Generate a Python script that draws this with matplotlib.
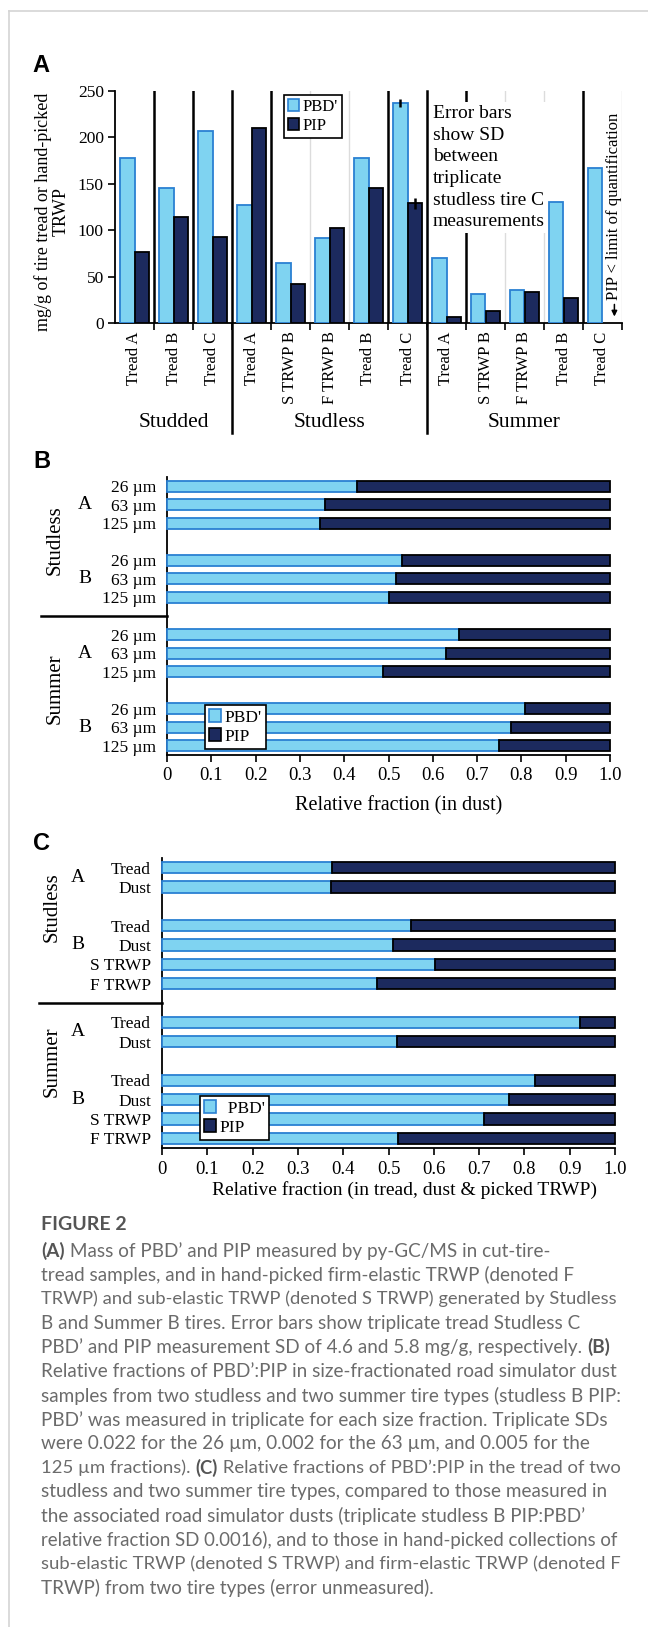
import matplotlib.pyplot as plt
import matplotlib.transforms as mtransforms
from matplotlib.patches import Patch
from matplotlib.lines import Line2D
import numpy as np

W, H = 648, 1627

# ---- panel A: mass of PBD' and PIP (mg/g) ----
a_cats = ['Tread A', 'Tread B', 'Tread C',
          'Tread A', 'S TRWP B', 'F TRWP B', 'Tread B', 'Tread C',
          'Tread A', 'S TRWP B', 'F TRWP B', 'Tread B', 'Tread C']
a_groups = ['Studded', 'Studless', 'Summer']
a_group_sizes = [3, 5, 5]
a_pbd = [178, 145, 207, 127, 65, 92, 178, 237, 70, 31, 36, 130, 167]
a_pip = [77, 114, 93, 210, 42, 102, 145, 129, 6, 13, 33, 27, np.nan]
a_sd_idx = 7          # studless tread C, triplicate
a_pbd_sd = 4.6
a_pip_sd = 5.8
a_black_bounds = [1, 2, 4, 7, 9, 12]
a_yticks = [0, 50, 100, 150, 200, 250]

# ---- panel B: relative fraction in dust by size ----
b_sizes = ['26 µm', '63 µm', '125 µm']
b_tires = ['A', 'B', 'A', 'B']
b_types = ['Studless', 'Summer']
b_pbd = [0.429, 0.357, 0.346,
         0.531, 0.517, 0.500,
         0.659, 0.629, 0.487,
         0.808, 0.776, 0.750]

# ---- panel C: relative fraction in tread, dust & picked TRWP ----
c_labels = ['Tread', 'Dust',
            'Tread', 'Dust', 'S TRWP', 'F TRWP',
            'Tread', 'Dust',
            'Tread', 'Dust', 'S TRWP', 'F TRWP']
c_group_sizes = [2, 4, 2, 4]
c_tires = ['A', 'B', 'A', 'B']
c_types = ['Studless', 'Summer']
c_pbd = [0.375, 0.374,
         0.549, 0.511, 0.603, 0.474,
         0.922, 0.518,
         0.823, 0.767, 0.711, 0.522]

frac_ticks = [0, 0.1, 0.2, 0.3, 0.4, 0.5, 0.6, 0.7, 0.8, 0.9, 1.0]
frac_labels = ['0', '0.1', '0.2', '0.3', '0.4', '0.5', '0.6', '0.7', '0.8', '0.9', '1.0']

caption_title = 'FIGURE 2'
caption_lines = [
    [('(A)', True), (' Mass of PBD’ and PIP measured by py-GC/MS in cut-tire-', False)],
    [('tread samples, and in hand-picked firm-elastic TRWP (denoted F', False)],
    [('TRWP) and sub-elastic TRWP (denoted S TRWP) generated by Studless', False)],
    [('B and Summer B tires. Error bars show triplicate tread Studless C', False)],
    [('PBD’ and PIP measurement SD of 4.6 and 5.8 mg/g, respectively. ', False), ('(B)', True)],
    [('Relative fractions of PBD’:PIP in size-fractionated road simulator dust', False)],
    [('samples from two studless and two summer tire types (studless B PIP:', False)],
    [('PBD’ was measured in triplicate for each size fraction. Triplicate SDs', False)],
    [('were 0.022 for the 26 µm, 0.002 for the 63 µm, and 0.005 for the', False)],
    [('125 µm fractions). ', False), ('(C)', True), (' Relative fractions of PBD’:PIP in the tread of two', False)],
    [('studless and two summer tire types, compared to those measured in', False)],
    [('the associated road simulator dusts (triplicate studless B PIP:PBD’', False)],
    [('relative fraction SD 0.0016), and to those in hand-picked collections of', False)],
    [('sub-elastic TRWP (denoted S TRWP) and firm-elastic TRWP (denoted F', False)],
    [('TRWP) from two tire types (error unmeasured).', False)],
]

LIGHT = '#7fd3f1'
LIGHT_EDGE = '#2a80d2'
DARK = '#1c2a5e'
SANS = ['Lato', 'DejaVu Sans']

plt.rcParams['font.family'] = ['Liberation Serif', 'DejaVu Serif']
plt.rcParams['axes.linewidth'] = 1.3


def rect(l, t, r, b):
    return [l / W, 1 - b / H, (r - l) / W, (b - t) / H]


def fx(x):
    return x / W


def fy(y):
    return 1 - y / H


def legend_at(x, y, labels, size):
    handles = [Patch(fc=LIGHT, ec=LIGHT_EDGE, lw=1.2, label=labels[0]),
               Patch(fc=DARK, ec='black', lw=1.2, label=labels[1])]
    leg = fig.legend(handles=handles, loc='upper left',
                     bbox_to_anchor=(fx(x), fy(y)), bbox_transform=fig.transFigure,
                     fancybox=False, edgecolor='black', framealpha=1,
                     fontsize=size, handlelength=0.65, handleheight=0.75,
                     handletextpad=0.2, borderpad=0.25, labelspacing=0.15,
                     borderaxespad=0)
    leg.get_frame().set_linewidth(1.2)


fig = plt.figure(figsize=(W / 100, H / 100), dpi=100)

# page frame
fig.add_artist(Line2D([fx(9), 1], [fy(11), fy(11)], color='#d4d4d4', lw=1.2))
fig.add_artist(Line2D([fx(9), fx(9)], [fy(11), 0], color='#d4d4d4', lw=1.2))

# ================= A =================
fig.text(fx(32), fy(65), 'A', family='Liberation Sans', weight='bold', fontsize=17,
         va='center', ha='left')
axA = fig.add_axes(rect(115, 91, 622, 323))
x = np.arange(len(a_cats))
w = 0.37
axA.bar(x - w / 2, a_pbd, w, color=LIGHT, edgecolor=LIGHT_EDGE, lw=1.3, zorder=3)
axA.bar(x + w / 2, a_pip, w, color=DARK, edgecolor='black', lw=1.3, zorder=3)
axA.errorbar(x[a_sd_idx] - w / 2, a_pbd[a_sd_idx], yerr=a_pbd_sd, fmt='none',
             ecolor='black', elinewidth=1.8, capsize=0, zorder=4)
axA.errorbar(x[a_sd_idx] + w / 2, a_pip[a_sd_idx], yerr=a_pip_sd, fmt='none',
             ecolor='black', elinewidth=1.8, capsize=0, zorder=4)
axA.set_xlim(-0.5, len(a_cats) - 0.5)
axA.set_ylim(0, 250)
axA.set_yticks(a_yticks)
axA.tick_params(axis='y', length=5, width=1.2, labelsize=12.5, pad=3)
bounds = np.arange(len(a_cats) + 1) - 0.5
axA.set_xticks(bounds[1:], minor=True)
axA.set_xticks(x)
axA.set_xticklabels(a_cats, rotation=90, va='top')
axA.tick_params(axis='x', which='major', length=0, pad=6, labelsize=12)
axA.tick_params(axis='x', which='minor', length=5, width=1.2)
axA.grid(True, which='minor', axis='x', color='#dcdcdc', lw=1, zorder=0)
axA.set_axisbelow(True)
for s in ['top', 'right']:
    axA.spines[s].set_visible(False)
for b in a_black_bounds:
    axA.axvline(b - 0.5, color='black', lw=1.8, zorder=2)
blendA = mtransforms.blended_transform_factory(axA.transData, axA.transAxes)
start = 0
for name, n in zip(a_groups, a_group_sizes):
    axA.text(start + (n - 1) / 2, -0.431, name, transform=blendA, ha='center',
             va='center', fontsize=15.5)
    if start > 0:
        axA.plot([start - 0.5] * 2, [-0.474, 1], transform=blendA, clip_on=False,
                 color='black', lw=1.8, zorder=2)
    start += n
fig.text(fx(52), fy(212), 'mg/g of tire tread or hand-picked\nTRWP', rotation=90,
         ha='center', va='center', multialignment='center', fontsize=13,
         linespacing=1.05)
fig.text(fx(433), fy(105),
         'Error bars\nshow SD\nbetween\ntriplicate\nstudless tire C\nmeasurements',
         ha='left', va='top', fontsize=14, linespacing=1.36,
         bbox=dict(fc='white', ec='none', pad=2))
xa = len(a_cats) - 1 + w / 2 + 0.12
axA.text(xa, 25, 'PIP < limit of quantification', rotation=90, ha='center',
         va='bottom', fontsize=12)
axA.annotate('', xy=(xa, 4), xytext=(xa, 23),
             arrowprops=dict(arrowstyle='-|>', color='black', lw=1.1, mutation_scale=8))
legend_at(284, 95, ["PBD'", 'PIP'], 12)


# ================= B / C =================
def frac_panel(box, letters_x, type_x, sep_x, labels, pbd, group_sizes, tires,
               types, type_shift):
    ax = fig.add_axes(rect(*box))
    slots = []
    firsts = []
    s = 0
    for n in group_sizes:
        firsts.append(s)
        slots.extend(range(s, s + n))
        s += n + 1
    slots = np.array(slots)
    pbd = np.array(pbd)
    ax.barh(slots, pbd, height=0.6, color=LIGHT, edgecolor=LIGHT_EDGE, lw=1.3,
            clip_on=False, zorder=3)
    ax.barh(slots, 1 - pbd, left=pbd, height=0.6, color=DARK, edgecolor='black',
            lw=1.3, clip_on=False, zorder=3)
    ax.set_xlim(0, 1)
    ax.set_ylim(slots[-1] + 0.5, -0.5)
    ax.set_xticks(frac_ticks)
    ax.set_xticklabels(frac_labels)
    ax.tick_params(axis='x', length=5, width=1.2, labelsize=13.5, pad=4)
    ax.set_yticks(slots)
    ax.set_yticklabels(labels)
    ax.tick_params(axis='y', length=0, labelsize=12.5, pad=8)
    for sp in ['top', 'right']:
        ax.spines[sp].set_visible(False)
    left, right = box[0], box[2]
    ax_w = right - left
    blend = mtransforms.blended_transform_factory(ax.transAxes, ax.transData)
    for first, n, t in zip(firsts, group_sizes, tires):
        ax.text((letters_x - left) / ax_w, first + min((n - 1) / 2, 1), t,
                transform=blend, ha='center', va='center', fontsize=14)
    half = len(group_sizes) // 2
    for k, name in enumerate(types):
        g = firsts[k * half:(k + 1) * half]
        n_last = group_sizes[(k + 1) * half - 1]
        mid = (g[0] + g[-1] + n_last - 1) / 2 + type_shift
        ax.text((type_x - left) / ax_w, mid, name, rotation=90, transform=blend,
                ha='center', va='center', fontsize=15)
    sep = firsts[half] - 1
    ax.plot([(sep_x - left) / ax_w, 0], [sep, sep], transform=blend, clip_on=False,
            color='black', lw=1.8)
    return ax


fig.text(fx(33), fy(462), 'B', family='Liberation Sans', weight='bold', fontsize=17,
         va='center', ha='left')
frac_panel((167, 477, 610, 755), 85, 55, 41, b_sizes * 4, b_pbd, [3, 3, 3, 3],
           b_tires, b_types, -0.1)
fig.text(fx(399), fy(806), 'Relative fraction (in dust)', ha='center', va='center',
         fontsize=14.5)
legend_at(205, 705, ["PBD'", 'PIP'], 12.5)

fig.text(fx(33), fy(843), 'C', family='Liberation Sans', weight='bold', fontsize=17,
         va='center', ha='left')
frac_panel((162, 858, 615, 1148), 78, 52, 39, c_labels, c_pbd, c_group_sizes,
           c_tires, c_types, -0.95)
fig.text(fx(404), fy(1190), 'Relative fraction (in tread, dust & picked TRWP)',
         ha='center', va='center', fontsize=14)
legend_at(200, 1096, ["  PBD'", 'PIP'], 12.5)

# ================= caption =================
fig.text(fx(41), fy(1224), caption_title, family=SANS, fontsize=14, weight='bold',
         color='#555555', va='center', ha='left')
renderer = fig.canvas.get_renderer()
max_w = 620 - 41
for i, segs in enumerate(caption_lines):
    y = fy(1251 + i * 24.1)
    size = 13.6
    # shrink a line a little if it would run past the right margin
    probe = fig.text(0, 0, ''.join(s for s, _ in segs), family=SANS, fontsize=size)
    lw_px = probe.get_window_extent(renderer).width
    probe.remove()
    if lw_px > max_w:
        size = size * max_w / lw_px
    xpos = fx(41)
    for txt, bold in segs:
        t = fig.text(xpos, y, txt, family=SANS, fontsize=size,
                     weight='bold' if bold else 'normal',
                     color='#555555' if bold else '#6b6b6b', va='center', ha='left')
        xpos += t.get_window_extent(renderer).width / W

fig.savefig('out.png', dpi=100)
